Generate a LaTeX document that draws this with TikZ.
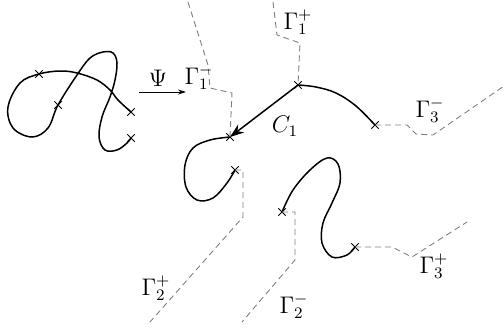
\documentclass[tikz,border=0pt]{standalone}
\usetikzlibrary{shapes.misc,arrows.meta}
\begin{document}
\begin{tikzpicture}[x=0.5pt, y=-0.5pt,
  knot/.style={draw, cross out, inner sep=0pt, minimum size=3.2pt, line width=0.5pt},
  curve/.style={line width=0.75pt, line cap=round},
  cut/.style={gray, line width=0.45pt, dash pattern=on 3pt off 2pt},
  lab/.style={inner sep=1pt, font=\large}]
  \useasboundingbox (0,0) rectangle (504,328);
  % knot before the map
  \node[knot] (a) at (39,74) {};
  \node[knot] (b) at (58,105) {};
  \node[knot] (c) at (131,112) {};
  \node[knot] (d) at (131,138) {};
  \draw[curve] plot[smooth, tension=0.6] coordinates {(c.center) (118,100) (110,90) (97,80) (77,73) (60,71) (a.center)
    (20,83) (8,107) (13,128) (32,137) (48,128) (b.center) (77,75) (90,58) (103,52) (113,53) (117,63) (115,80)
    (110,97) (102,117) (99,137) (105,150) (117,150) (127,143) (d.center)};
  \node[lab] (psi) at (158,78) {$\Psi$};
  \draw[-{Stealth[length=4pt, width=2.5pt]}, line width=0.4pt] (139,92) -- (186,92);
  % cut pieces after the map
  \node[knot] (e) at (230,137) {};
  \node[knot] (f) at (298,85) {};
  \node[knot] (g) at (375,125) {};
  \node[knot] (h) at (235,170) {};
  \node[knot] (i) at (282,212) {};
  \node[knot] (j) at (355,247) {};
  \draw[curve, -{Stealth[length=7pt, width=5pt]}] (f.center) -- (e.center);
  \draw[curve] plot[smooth, tension=0.6] coordinates {(f.center) (316,87) (336,93) (356,106) (g.center)};
  \draw[curve] plot[smooth, tension=0.6] coordinates {(e.center) (210,140) (193,148) (185,165) (186,187)
    (197,200) (213,198) (227,183) (h.center)};
  \draw[curve] plot[smooth, tension=0.6] coordinates {(i.center) (293,190) (310,170) (327,158) (338,164)
    (340,183) (332,203) (323,223) (322,243) (332,257) (347,255) (j.center)};
  % cuts
  \draw[cut] (188,2) -- (208,65) -- (210,88) -- (232,93) -- (e.center);
  \draw[cut] (273,2) -- (277,35) -- (300,43) -- (f.center);
  \draw[cut] (g.center) -- (407,125) -- (416,134) -- (433,135) -- (504,86);
  \draw[cut] (h.center) -- (243,170) -- (243,217) -- (150,322);
  \draw[cut] (i.center) -- (295,212) -- (295,260) -- (242,322);
  \draw[cut] (j.center) -- (392,247) -- (412,257) -- (467,222);
  \node[lab] (g1m) at (199,77) {$\Gamma_1^-$};
  \node[lab] (g1p) at (298,22) {$\Gamma_1^+$};
  \node[lab] (c1) at (285,126) {$C_1$};
  \node[lab] (g3m) at (430,110) {$\Gamma_3^-$};
  \node[lab] (g2p) at (156,288) {$\Gamma_2^+$};
  \node[lab] (g2m) at (294,306) {$\Gamma_2^-$};
  \node[lab] (g3p) at (434,266) {$\Gamma_3^+$};
\end{tikzpicture}
\end{document}
